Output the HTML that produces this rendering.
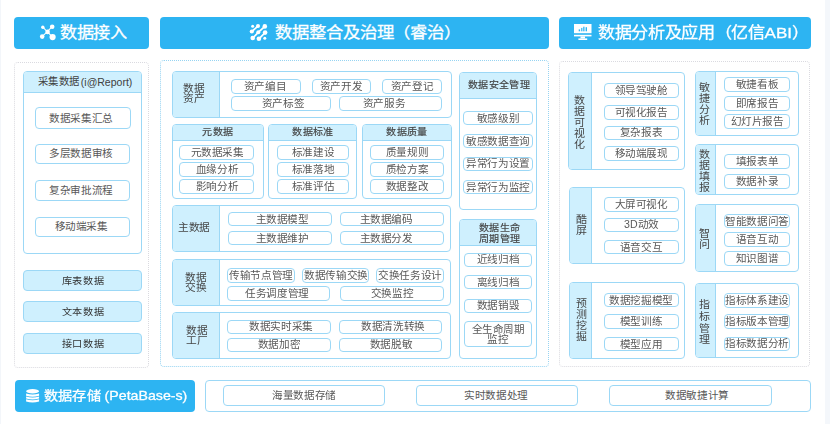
<!DOCTYPE html><html lang="zh-CN"><head><meta charset="utf-8"><title>架构图</title><style>
*{margin:0;padding:0;box-sizing:border-box}
html,body{width:830px;height:424px;overflow:hidden;background:#fff}
body{position:relative;font-family:"Liberation Sans",sans-serif;color:#3a3a3a}
div{position:absolute}
span{display:inline-block;white-space:nowrap}
.hdr{background:#2db4f2;border-radius:4px;color:#fff;white-space:nowrap}
.hdr span{position:absolute;font-size:15.4px;line-height:16px;top:8.4px;transform:scaleX(1.11);transform-origin:0 50%;-webkit-text-stroke:0.3px #fff}
.pnl{border:1px dotted #dadae0;border-radius:4px}
.pnlb{border:1px dotted #97d4f2;border-radius:4px}
.box{border:1px solid #9cd8f6;border-radius:4px;background:#fff;overflow:hidden}
.lab{background:#cff0fe;border-right:1.5px solid #9cd8f6;display:flex;align-items:center;justify-content:center;text-align:center;color:#454545}
.lab span{font-size:10px;line-height:10px;transform:scaleX(1.07)}
.lab.v span{line-height:11px;transform:scaleX(1.1)}
.th{background:#cff0fe;border-bottom:1.5px solid #9cd8f6;display:flex;align-items:center;justify-content:center;text-align:center;color:#454545}
.th span{font-size:9.6px;line-height:10.5px;transform:scaleX(1.045);-webkit-text-stroke:0.15px #3a3a3a;position:relative;left:0.5px}
.btn{border:1px solid #9cd8f6;border-radius:4px;background:#fff;display:flex;align-items:center;justify-content:center;text-align:center;color:#585858}
.btn span{font-size:10px;line-height:10px;transform:scaleX(1.06);position:relative;top:0.6px}
.tab{border:1px solid #9cd8f6;border-radius:4px;background:#cff0fe;display:flex;align-items:center;justify-content:center;color:#333}
.tab span{font-size:9.6px;line-height:10px;transform:scaleX(1.06);position:relative;top:0.4px;left:0.8px}
</style></head><body><div id="w" style="left:0;top:0;width:830px;height:424px;filter:blur(0.35px)">
<div style="left:0;top:0;width:1px;height:424px;background:#f3f6fa"></div>
<div style="left:825px;top:0;width:5px;height:424px;background:#f4f7fb"></div>
<div class="hdr" style="left:14px;top:17px;width:135.2px;height:31.5px;"><svg width="18" height="18" viewBox="0 0 18 18" style="position:absolute;left:24px;top:6px"><g stroke="#fff" stroke-width="1.1"><line x1="4.8" y1="4.2" x2="14.6" y2="14.1"/><line x1="14.2" y1="3.7" x2="4.2" y2="13.6"/></g><g fill="#fff"><circle cx="4.8" cy="4.2" r="1.7"/><circle cx="14.2" cy="3.7" r="2.3"/><circle cx="9.6" cy="8.9" r="2.3"/><circle cx="4.2" cy="13.6" r="2.3"/><circle cx="14.6" cy="14.1" r="3.1"/></g></svg><span style="left:45.6px">数据接入</span></div>
<div class="hdr" style="left:160px;top:17px;width:389px;height:31.5px;"><svg width="22" height="22" viewBox="0 0 22 22" style="position:absolute;left:88px;top:5.3px"><g stroke="#fff" stroke-width="1.7" stroke-linecap="round"><line x1="3.8" y1="9.5" x2="10" y2="4"/><line x1="4.7" y1="16" x2="10.3" y2="10.3"/><line x1="10.3" y1="10.3" x2="16.8" y2="4.4"/><line x1="10.9" y1="16.8" x2="17.1" y2="10.6"/></g><g fill="#fff"><circle cx="4.66" cy="4.2" r="1.5"/><circle cx="10" cy="4" r="2"/><circle cx="16.8" cy="4.4" r="2.3"/><circle cx="3.8" cy="9.5" r="2.1"/><circle cx="10.3" cy="10.3" r="2"/><circle cx="17.1" cy="10.6" r="2.3"/><circle cx="4.7" cy="16" r="2.3"/><circle cx="10.9" cy="16.8" r="2.3"/><circle cx="16.8" cy="16.3" r="1.5"/></g></svg><span style="left:115px;transform:scaleX(1.128)">数据整合及治理（睿治）</span></div>
<div class="hdr" style="left:559px;top:17px;width:252px;height:31.5px;"><svg width="18" height="17" viewBox="0 0 18 17" style="position:absolute;left:14.5px;top:7px"><rect x="0" y="0" width="17.5" height="9.2" fill="#fff"/><rect x="0" y="10.8" width="17.5" height="1.6" fill="#fff"/><rect x="6.5" y="12.4" width="4.5" height="2" fill="#fff"/><rect x="4.4" y="14.4" width="8.8" height="1.6" fill="#fff"/><g fill="#2db4f2"><rect x="4.7" y="5.4" width="1.4" height="1.9"/><rect x="7.2" y="3.9" width="1.2" height="3.4"/><rect x="9.2" y="2.7" width="1.3" height="4.6"/><rect x="11.6" y="3.2" width="1.4" height="4.1"/></g></svg><span style="left:39px">数据分析及应用（亿信ABI）</span></div>
<div class="pnl" style="left:13.5px;top:62px;width:135.0px;height:306px;"></div>
<div class="box" style="left:23px;top:71.3px;width:119px;height:182.7px;"><div class="th" style="left:0;top:0;width:100%;height:21px;display:block"><span style="position:absolute;left:13.8px;top:4.6px;font-size:10px;transform:scaleX(1.04);transform-origin:0 50%;-webkit-text-stroke:0;color:#404040">采集数据</span><span style="position:absolute;left:56.8px;top:4.6px;font-size:10.5px;line-height:11px;transform:scaleX(1.0);-webkit-text-stroke:0;color:#404040;transform-origin:0 50%">(i@Report)</span></div></div>
<div class="btn" style="left:34.5px;top:107.3px;width:96.1px;height:21.6px;"><span style="left:-1.5px">数据采集汇总</span></div>
<div class="btn" style="left:34.5px;top:143.5px;width:95.3px;height:20.6px;"><span style="left:-1.5px">多层数据审核</span></div>
<div class="btn" style="left:34.5px;top:180.1px;width:95.3px;height:20.6px;"><span style="left:-1.5px">复杂审批流程</span></div>
<div class="btn" style="left:34.5px;top:216.6px;width:95.3px;height:20.6px;"><span style="left:-1.5px">移动端采集</span></div>
<div class="tab" style="left:22.5px;top:270.1px;width:119.5px;height:20.9px;"><span style="">库表数据</span></div>
<div class="tab" style="left:22.5px;top:301.3px;width:119.5px;height:20.5px;"><span style="">文本数据</span></div>
<div class="tab" style="left:22.5px;top:332.7px;width:119.5px;height:21.0px;"><span style="">接口数据</span></div>
<div class="pnlb" style="left:160px;top:59.8px;width:389px;height:307.5px;"></div>
<div class="box" style="left:172px;top:70.7px;width:279.5px;height:47.2px;"><div class="lab" style="left:0;top:0;width:47.05px;height:100%"><span style="position:relative;left:-1.7px;top:0px;">数据<br>资产</span></div></div>
<div class="btn" style="left:230.5px;top:79px;width:70.0px;height:14.9px;"><span style="left:-1px">资产编目</span></div>
<div class="btn" style="left:311.5px;top:79px;width:59.9px;height:14.9px;"><span style="">资产开发</span></div>
<div class="btn" style="left:382.4px;top:79px;width:59.4px;height:14.9px;"><span style="">资产登记</span></div>
<div class="btn" style="left:230.5px;top:96.3px;width:100.0px;height:14.9px;"><span style="left:2.7px">资产标签</span></div>
<div class="btn" style="left:338.9px;top:96.3px;width:102.9px;height:14.9px;"><span style="left:-6.2px">资产服务</span></div>
<div class="box" style="left:172.4px;top:123.7px;width:91.2px;height:75.1px;"><div class="th" style="left:0;top:0;width:100%;height:16.7px"><span>元数据</span></div></div>
<div class="btn" style="left:179.4px;top:145px;width:74.8px;height:14.7px;"><span style="">元数据采集</span></div>
<div class="btn" style="left:179.4px;top:162.4px;width:74.8px;height:14.2px;"><span style="">血缘分析</span></div>
<div class="btn" style="left:179.4px;top:179.4px;width:74.8px;height:14.2px;"><span style="">影响分析</span></div>
<div class="box" style="left:268.4px;top:123.7px;width:89.0px;height:75.1px;"><div class="th" style="left:0;top:0;width:100%;height:16.7px"><span>数据标准</span></div></div>
<div class="btn" style="left:277.3px;top:145px;width:71.4px;height:14.7px;"><span style="">标准建设</span></div>
<div class="btn" style="left:277.3px;top:162.4px;width:71.4px;height:14.2px;"><span style="">标准落地</span></div>
<div class="btn" style="left:277.3px;top:179.4px;width:71.4px;height:14.2px;"><span style="">标准评估</span></div>
<div class="box" style="left:362.4px;top:123.7px;width:89.2px;height:75.1px;"><div class="th" style="left:0;top:0;width:100%;height:16.7px"><span>数据质量</span></div></div>
<div class="btn" style="left:369.6px;top:145px;width:74.0px;height:14.7px;"><span style="">质量规则</span></div>
<div class="btn" style="left:369.6px;top:162.4px;width:74.0px;height:14.2px;"><span style="">质检方案</span></div>
<div class="btn" style="left:369.6px;top:179.4px;width:74.0px;height:14.2px;"><span style="">数据整改</span></div>
<div class="box" style="left:172.2px;top:204.7px;width:279.3px;height:47.4px;"><div class="lab" style="left:0;top:0;width:46.75px;height:100%"><span style="position:relative;left:-2px;top:0px;">主数据</span></div></div>
<div class="btn" style="left:228.3px;top:211.6px;width:103.7px;height:14.5px;"><span style="left:1.8px;top:1.4px">主数据模型</span></div>
<div class="btn" style="left:339.5px;top:211.6px;width:104.2px;height:14.5px;"><span style="left:-6px;top:1.4px">主数据编码</span></div>
<div class="btn" style="left:228.3px;top:230.6px;width:103.7px;height:14.5px;"><span style="left:1.8px;top:1px">主数据维护</span></div>
<div class="btn" style="left:339.5px;top:230.6px;width:104.2px;height:14.5px;"><span style="left:-6px;top:1px">主数据分发</span></div>
<div class="box" style="left:172.2px;top:258.6px;width:279.3px;height:47.1px;"><div class="lab" style="left:0;top:0;width:46.75px;height:100%"><span style="position:relative;left:-0.5px;top:1px;">数据<br>交换</span></div></div>
<div class="btn" style="left:227.4px;top:267.5px;width:67.7px;height:15.4px;"><span style="">传输节点管理</span></div>
<div class="btn" style="left:301.6px;top:267.5px;width:67.9px;height:15.4px;"><span style="">数据传输交换</span></div>
<div class="btn" style="left:375.6px;top:267.5px;width:68.0px;height:15.4px;"><span style="">交换任务设计</span></div>
<div class="btn" style="left:227.4px;top:286.1px;width:103.0px;height:14.5px;"><span style="left:-1.5px">任务调度管理</span></div>
<div class="btn" style="left:339.8px;top:286.1px;width:103.8px;height:14.5px;"><span style="">交换监控</span></div>
<div class="box" style="left:172.2px;top:311.8px;width:279.3px;height:47.2px;"><div class="lab" style="left:0;top:0;width:46.75px;height:100%"><span style="position:relative;left:0.6px;top:0.6px;">数据<br>工厂</span></div></div>
<div class="btn" style="left:227.4px;top:319.5px;width:103.3px;height:14.5px;"><span style="left:2.3px">数据实时采集</span></div>
<div class="btn" style="left:338.9px;top:319.5px;width:103.5px;height:14.5px;"><span style="left:2.6px">数据清洗转换</span></div>
<div class="btn" style="left:227.4px;top:337.5px;width:103.3px;height:14.5px;"><span style="">数据加密</span></div>
<div class="btn" style="left:338.9px;top:337.5px;width:103.5px;height:14.5px;"><span style="">数据脱敏</span></div>
<div class="box" style="left:459.4px;top:71.5px;width:77.7px;height:138.4px;"><div class="th" style="left:0;top:0;width:100%;height:26.7px"><span>数据安全管理</span></div></div>
<div class="btn" style="left:462.5px;top:111.3px;width:70.1px;height:14.2px;"><span style="">敏感级别</span></div>
<div class="btn" style="left:462.5px;top:134.2px;width:70.1px;height:14.1px;"><span style="">敏感数据查询</span></div>
<div class="btn" style="left:462.5px;top:156.6px;width:70.1px;height:14.6px;"><span style="">异常行为设置</span></div>
<div class="btn" style="left:462.5px;top:180.2px;width:70.1px;height:14.1px;"><span style="">异常行为监控</span></div>
<div class="box" style="left:459.4px;top:218.5px;width:77.7px;height:140.5px;"><div class="th" style="left:0;top:0;width:100%;height:26.8px"><span><span style="line-height:11px;position:relative;top:0.5px;transform:none">数据生命<br>周期管理</span></span></div></div>
<div class="btn" style="left:463.8px;top:252.5px;width:68.4px;height:14.5px;"><span style="">近线归档</span></div>
<div class="btn" style="left:463.8px;top:275.1px;width:68.4px;height:14.4px;"><span style="">离线归档</span></div>
<div class="btn" style="left:463.8px;top:298.7px;width:68.4px;height:14.2px;"><span style="">数据销毁</span></div>
<div class="btn" style="left:463.8px;top:321.4px;width:68.4px;height:25.9px;"><span style="">全生命周期<br>监控</span></div>
<div class="pnl" style="left:559.2px;top:61.2px;width:250.8px;height:305.8px;"></div>
<div class="box" style="left:568.2px;top:71.7px;width:116.8px;height:98.8px;"><div class="lab v" style="left:0;top:0;width:22.95px;height:100%"><span style="position:relative;left:-0.7px;top:1px;">数<br>据<br>可<br>视<br>化</span></div></div>
<div class="btn" style="left:604.4px;top:83.2px;width:74.2px;height:14.4px;"><span style="">领导驾驶舱</span></div>
<div class="btn" style="left:604.4px;top:105.1px;width:74.2px;height:14.6px;"><span style="">可视化报告</span></div>
<div class="btn" style="left:604.4px;top:125.7px;width:74.2px;height:14.0px;"><span style="">复杂报表</span></div>
<div class="btn" style="left:604.4px;top:146.3px;width:74.2px;height:14.6px;"><span style="">移动端展现</span></div>
<div class="box" style="left:568.7px;top:187.2px;width:116.4px;height:77.0px;"><div class="lab v" style="left:0;top:0;width:22.45px;height:100%"><span style="position:relative;left:0.7px;top:-0.9px;">酷<br>屏</span></div></div>
<div class="btn" style="left:604.4px;top:197.4px;width:74.2px;height:14.6px;"><span style="">大屏可视化</span></div>
<div class="btn" style="left:604.4px;top:217.5px;width:74.2px;height:14.5px;"><span style="">3D动效</span></div>
<div class="btn" style="left:604.4px;top:239.9px;width:74.2px;height:14.1px;"><span style="">语音交互</span></div>
<div class="box" style="left:568.7px;top:282.2px;width:116.4px;height:77.0px;"><div class="lab v" style="left:0;top:0;width:22.45px;height:100%"><span style="position:relative;left:1px;top:-1px;">预<br>测<br>挖<br>掘</span></div></div>
<div class="btn" style="left:604.4px;top:292.9px;width:74.2px;height:14.5px;"><span style="">数据挖掘模型</span></div>
<div class="btn" style="left:604.4px;top:314.4px;width:74.2px;height:14.5px;"><span style="">模型训练</span></div>
<div class="btn" style="left:604.4px;top:336.8px;width:74.2px;height:14.5px;"><span style="">模型应用</span></div>
<div class="box" style="left:695.3px;top:71.4px;width:103.7px;height:64.5px;"><div class="lab v" style="left:0;top:0;width:19.55px;height:100%"><span style="position:relative;left:-1.4px;top:0.85px;">敏<br>捷<br>分<br>析</span></div></div>
<div class="btn" style="left:724.3px;top:77.3px;width:65.3px;height:14.5px;"><span style="">敏捷看板</span></div>
<div class="btn" style="left:724.3px;top:96.1px;width:65.3px;height:14.6px;"><span style="">即席报告</span></div>
<div class="btn" style="left:724.3px;top:114.4px;width:65.3px;height:14.8px;"><span style="">幻灯片报告</span></div>
<div class="box" style="left:695.3px;top:143.6px;width:103.7px;height:51.5px;"><div class="lab v" style="left:0;top:0;width:19.55px;height:100%"><span style="position:relative;left:-1.4px;top:1.6px;">数<br>据<br>填<br>报</span></div></div>
<div class="btn" style="left:724.3px;top:154.2px;width:65.3px;height:14.8px;"><span style="">填报表单</span></div>
<div class="btn" style="left:724.3px;top:174.2px;width:65.3px;height:15.0px;"><span style="">数据补录</span></div>
<div class="box" style="left:695.3px;top:203.6px;width:103.7px;height:68.5px;"><div class="lab v" style="left:0;top:0;width:19.55px;height:100%"><span style="position:relative;left:-1.4px;top:0.7px;">智<br>问</span></div></div>
<div class="btn" style="left:724.3px;top:214.2px;width:65.3px;height:14.2px;"><span style="">智能数据问答</span></div>
<div class="btn" style="left:724.3px;top:232.4px;width:65.3px;height:14.3px;"><span style="">语音互动</span></div>
<div class="btn" style="left:724.3px;top:251.2px;width:65.3px;height:14.4px;"><span style="">知识图谱</span></div>
<div class="box" style="left:695.3px;top:282.6px;width:103.7px;height:75.9px;"><div class="lab v" style="left:0;top:0;width:19.55px;height:100%"><span style="position:relative;left:-1.6px;top:2px;line-height:11.7px;">指<br>标<br>管<br>理</span></div></div>
<div class="btn" style="left:724.3px;top:293.1px;width:65.3px;height:14.6px;"><span style="">指标体系建设</span></div>
<div class="btn" style="left:724.3px;top:314.4px;width:65.3px;height:14.5px;"><span style="">指标版本管理</span></div>
<div class="btn" style="left:724.3px;top:336.5px;width:65.3px;height:14.6px;"><span style="">指标数据分析</span></div>
<div class="hdr" style="left:14.6px;top:380px;width:180.2px;height:32px;"><svg width="14" height="15" viewBox="0 0 14 15" style="position:absolute;left:11px;top:8.6px"><g fill="#fff"><ellipse cx="6.6" cy="2.2" rx="6.5" ry="2.2"/><path d="M0.1 4.6 Q6.6 6.6 13.1 4.6 L13.1 6.8 Q6.6 8.8 0.1 6.8Z"/><path d="M0.1 7.4 Q6.6 9.4 13.1 7.4 L13.1 9.6 Q6.6 11.6 0.1 9.6Z"/><path d="M0.1 10.2 Q6.6 12.2 13.1 10.2 L13.1 12.4 Q6.6 14.4 0.1 12.4Z"/></g></svg><span style="left:29px;top:7.5px;font-size:13px;transform:scaleX(1.09)">数据存储 (PetaBase-s)</span></div>
<div class="box" style="left:205.4px;top:379.6px;width:606.1px;height:32.6px;"></div>
<div class="btn" style="left:222.8px;top:385.4px;width:162.2px;height:20.3px;"><span style="left:0px">海量数据存储</span></div>
<div class="btn" style="left:416.3px;top:385.4px;width:162.0px;height:20.3px;"><span style="left:-1.5px">实时数据处理</span></div>
<div class="btn" style="left:609px;top:385.4px;width:162.6px;height:20.3px;"><span style="left:6.9px">数据敏捷计算</span></div>
</div></body></html>
